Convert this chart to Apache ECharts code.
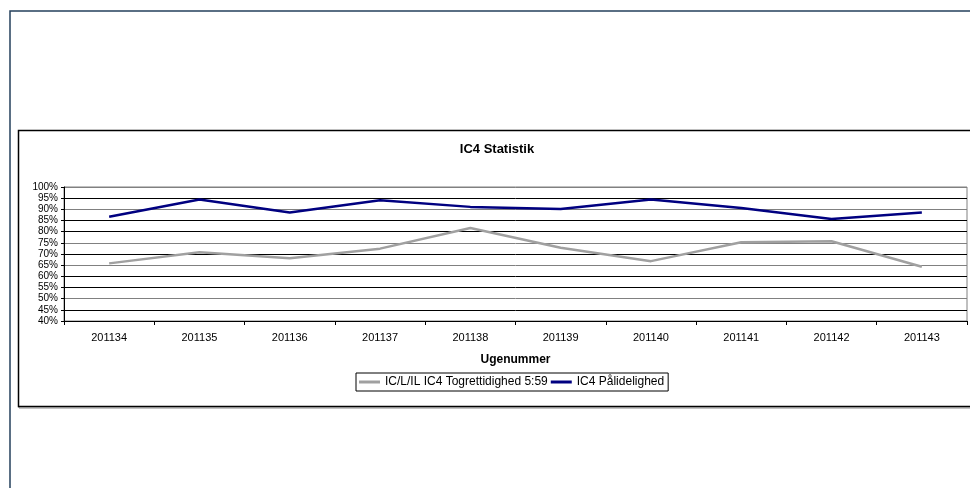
<!DOCTYPE html>
<html>
<head>
<meta charset="utf-8">
<script src="https://cdn.jsdelivr.net/npm/echarts@6/dist/echarts.min.js"></script>
<style>html,body{margin:0;padding:0;background:#fff}#c{width:970px;height:488px}</style>
</head>
<body>
<div id="c"></div>
<script>
const categories = ['201134','201135','201136','201137','201138','201139','201140','201141','201142','201143'];
const togrettidighed = [65.8, 70.8, 68.1, 72.4, 81.6, 72.8, 66.8, 75.3, 75.7, 64.3];
const paalidelighed = [86.7, 94.4, 88.6, 94.1, 91.1, 90.2, 94.4, 90.6, 85.7, 88.6];
const seriesNames = ['IC/L/IL IC4 Togrettidighed 5:59', 'IC4 Pålidelighed'];
const yTicks = {min: 40, max: 100, interval: 5};

const FONT = 'Liberation Sans, Arial, sans-serif';
const chart = echarts.init(document.getElementById('c'), null, {renderer: 'canvas'});
chart.setOption({
  animation: false,
  backgroundColor: '#fff',
  graphic: [
    {type: 'rect', shape: {x: 10, y: 11, width: 1000, height: 1000}, style: {fill: 'none', stroke: '#25405c', lineWidth: 1.5}, z: -10},
    {type: 'rect', shape: {x: 19, y: 131, width: 1000, height: 277}, style: {fill: 'none', stroke: '#888', lineWidth: 1}, z: -10},
    {type: 'rect', shape: {x: 18.5, y: 130.5, width: 1000, height: 276}, style: {fill: '#fff', stroke: '#000', lineWidth: 1.5}, z: -9},
    {type: 'text', x: 497, y: 149, style: {text: 'IC4 Statistik', font: 'bold 13px ' + FONT, fill: '#000', textAlign: 'center', textVerticalAlign: 'middle'}}
  ],
  grid: {left: 64, right: 3, top: 187, bottom: 167, show: true, borderColor: '#808080', borderWidth: 1, backgroundColor: '#fff'},
  legend: {
    left: 356, top: 373, itemWidth: 21, itemHeight: 3, itemGap: 3, icon: 'rect',
    padding: [2, 4, 2, 3], borderColor: '#000', borderWidth: 1, backgroundColor: '#fff',
    textStyle: {fontFamily: FONT, fontSize: 12, color: '#000', lineHeight: 14},
    data: seriesNames
  },
  xAxis: {
    type: 'category', data: categories, boundaryGap: true,
    name: 'Ugenummer', nameLocation: 'middle', nameGap: 33,
    nameTextStyle: {fontFamily: FONT, fontSize: 12, fontWeight: 'bold', color: '#000'},
    axisLine: {lineStyle: {color: '#000', width: 1}},
    axisTick: {show: true, length: 4, lineStyle: {color: '#000'}},
    axisLabel: {fontFamily: FONT, fontSize: 11, color: '#000', margin: 11},
    splitLine: {show: false}
  },
  yAxis: {
    type: 'value', min: yTicks.min, max: yTicks.max, interval: yTicks.interval,
    axisLine: {show: true, lineStyle: {color: '#000', width: 1}},
    axisTick: {show: true, length: 3, lineStyle: {color: '#000'}},
    axisLabel: {fontFamily: FONT, fontSize: 10, color: '#000', margin: 6, formatter: '{value}%'},
    splitLine: {show: true, lineStyle: {width: 1, color: ['#000','#000','#808080','#000','#000','#808080','#000','#808080','#000','#000','#808080','#000','#808080']}}
  },
  series: [
    {name: seriesNames[0], type: 'line', data: togrettidighed, symbol: 'none', lineStyle: {color: '#a0a0a0', width: 2.5}, itemStyle: {color: '#a0a0a0'}},
    {name: seriesNames[1], type: 'line', data: paalidelighed, symbol: 'none', lineStyle: {color: '#000080', width: 2.5}, itemStyle: {color: '#000080'}}
  ]
});
</script>
</body>
</html>
